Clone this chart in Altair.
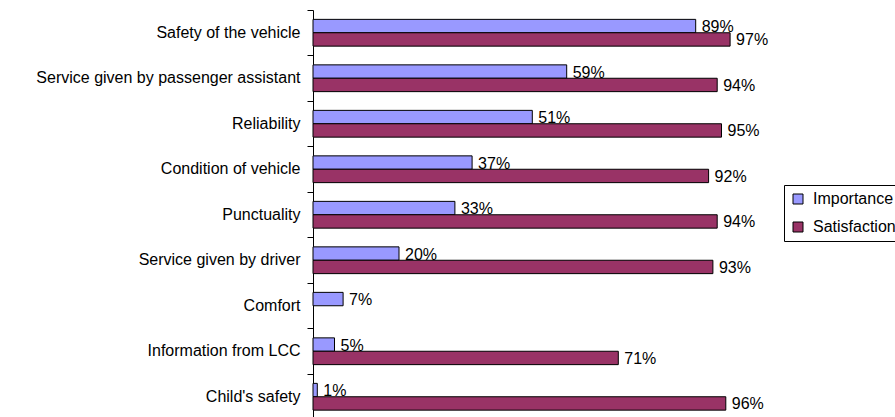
import altair as alt
import pandas as pd

categories = [
    "Safety of the vehicle",
    "Service given by passenger assistant",
    "Reliability",
    "Condition of vehicle",
    "Punctuality",
    "Service given by driver",
    "Comfort",
    "Information from LCC",
    "Child's safety",
]
importance = [0.89, 0.59, 0.51, 0.37, 0.33, 0.20, 0.07, 0.05, 0.01]
satisfaction = [0.97, 0.94, 0.95, 0.92, 0.94, 0.93, None, 0.71, 0.96]
series = ["Importance", "Satisfaction"]
colors = ["#9999FF", "#993366"]

rows = []
for c, imp, sat in zip(categories, importance, satisfaction):
    rows.append({"category": c, "series": series[0], "value": imp})
    if sat is not None:
        rows.append({"category": c, "series": series[1], "value": sat})
df = pd.DataFrame(rows)
df["label"] = (df["value"] * 100).round().astype(int).astype(str) + "%"

FONT = "Liberation Sans"
FS = 16

yscale = alt.Scale(domain=categories, range=[10, 419.5], paddingInner=0, paddingOuter=0)
yoff_scale = alt.Scale(domain=series, paddingInner=0, paddingOuter=0.7)
xscale = alt.Scale(domain=[0, 1])

axis_labels = alt.Axis(orient="left", title=None, ticks=False, domain=False,
                       labelPadding=13, labelFont=FONT, labelFontSize=FS,
                       labelColor="black", labelLimit=400)
axis_ticks = alt.Axis(orient="left", title=None, labels=False, bandPosition=0,
                      ticks=True, tickSize=6, tickColor="black", domain=True,
                      domainColor="black", tickWidth=1, domainWidth=1)

base = alt.Chart(df)

bars = base.mark_bar(stroke="black", strokeWidth=1).encode(
    x=alt.X("value:Q", scale=xscale, axis=None),
    y=alt.Y("category:N", scale=yscale, axis=axis_labels, sort=categories),
    yOffset=alt.YOffset("series:N", scale=yoff_scale, sort=series),
    color=alt.Color("series:N", scale=alt.Scale(domain=series, range=colors),
                    legend=alt.Legend(orient="none", legendX=471, legendY=185,
                                      title=None, strokeColor="black",
                                      fillColor="white", padding=6,
                                      symbolType="square", symbolSize=100,
                                      symbolStrokeColor="black",
                                      symbolStrokeWidth=1, labelFont=FONT,
                                      labelFontSize=FS, labelColor="black",
                                      rowPadding=12, labelOffset=7)),
)

labels = base.mark_text(align="left", baseline="middle", dx=6, dy=1,
                        font=FONT, fontSize=FS, color="black").encode(
    x=alt.X("value:Q", scale=xscale, axis=None),
    y=alt.Y("category:N", scale=yscale, axis=axis_ticks, sort=categories),
    yOffset=alt.YOffset("series:N", scale=yoff_scale, sort=series),
    text="label:N",
)

chart = alt.layer(bars, labels).resolve_axis(y="independent").properties(
    width=430,
    height=417,
    autosize=alt.AutoSizeParams(type="none"),
    padding={"left": 313, "top": 0, "right": 152, "bottom": 0},
    background="white",
).configure_view(stroke=None)

chart.save("out.html", embed_options={"renderer": "svg", "actions": False})
